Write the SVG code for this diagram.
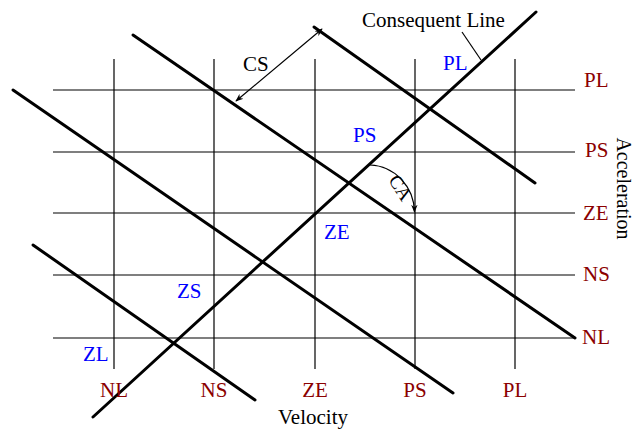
<svg xmlns="http://www.w3.org/2000/svg" width="634" height="431" viewBox="0 0 634 431">
<style>
.grid{stroke:#000;stroke-width:1.2;fill:none}
.thick{stroke:#000;stroke-width:3;fill:none;stroke-linecap:round}
.thin{stroke:#000;stroke-width:1.2;fill:none}
text{font-family:"Liberation Serif","Times New Roman",serif;font-size:21px}
.red{fill:#8b0000}
.blue{fill:#0000ff}
.blk{fill:#000}
</style>
<defs>
<marker id="ah" viewBox="0 0 10 10" refX="9" refY="5" markerWidth="8" markerHeight="8" markerUnits="userSpaceOnUse" orient="auto-start-reverse">
<path d="M0,1 L10,5 L0,9 L3,5 Z" fill="#000"/>
</marker>
</defs>
<g id="grid">
<line class="grid" x1="53" y1="90" x2="575" y2="90"/>
<line class="grid" x1="53" y1="152" x2="575" y2="152"/>
<line class="grid" x1="53" y1="213" x2="575" y2="213"/>
<line class="grid" x1="53" y1="275" x2="575" y2="275"/>
<line class="grid" x1="53" y1="338" x2="575" y2="338"/>
<line class="grid" x1="114" y1="59" x2="114" y2="369"/>
<line class="grid" x1="214" y1="59" x2="214" y2="369"/>
<line class="grid" x1="315" y1="59" x2="315" y2="369"/>
<line class="grid" x1="415" y1="59" x2="415" y2="369"/>
<line class="grid" x1="515" y1="59" x2="515" y2="369"/>
</g>
<g id="connectors">
<line id="consequent" class="thick" x1="93" y1="417" x2="536" y2="12"/>
<line class="thick" x1="314" y1="27" x2="535" y2="183"/>
<line class="thick" x1="133" y1="35" x2="575" y2="338"/>
<line class="thick" x1="13" y1="90" x2="453" y2="393"/>
<line class="thick" x1="33" y1="245" x2="255" y2="400"/>
<line class="thin" x1="236" y1="101" x2="322" y2="29" marker-start="url(#ah)" marker-end="url(#ah)"/>
<line class="thin" x1="462" y1="32" x2="481" y2="60"/>
<path class="thin" d="M370,165 A46,48 0 0 1 414.5,212" marker-end="url(#ah)"/>
</g>
<g id="labels-top">
<text class="blk" x="362" y="27">Consequent Line</text>
<text class="blk" x="243" y="71">CS</text>
<text class="blk" transform="translate(400,188) rotate(58)" text-anchor="middle" dy="6" style="font-size:19px">CA</text>
</g>
<g id="accel-labels">
<text class="red" x="584" y="87">PL</text>
<text class="red" x="585" y="157">PS</text>
<text class="red" x="583" y="220">ZE</text>
<text class="red" x="583" y="281">NS</text>
<text class="red" x="582" y="344">NL</text>
<text class="blk" transform="translate(617,188.5) rotate(90)" text-anchor="middle" style="font-size:20px">Acceleration</text>
</g>
<g id="velocity-labels">
<text class="red" x="114" y="397" text-anchor="middle">NL</text>
<text class="red" x="214" y="397" text-anchor="middle">NS</text>
<text class="red" x="315" y="397" text-anchor="middle">ZE</text>
<text class="red" x="415" y="397" text-anchor="middle">PS</text>
<text class="red" x="515" y="397" text-anchor="middle">PL</text>
<text class="blk" x="313" y="424" text-anchor="middle">Velocity</text>
</g>
<g id="consequent-labels">
<text class="blue" x="443" y="70">PL</text>
<text class="blue" x="353" y="142">PS</text>
<text class="blue" x="324" y="239">ZE</text>
<text class="blue" x="177" y="298">ZS</text>
<text class="blue" x="83" y="361">ZL</text>
</g>
</svg>
